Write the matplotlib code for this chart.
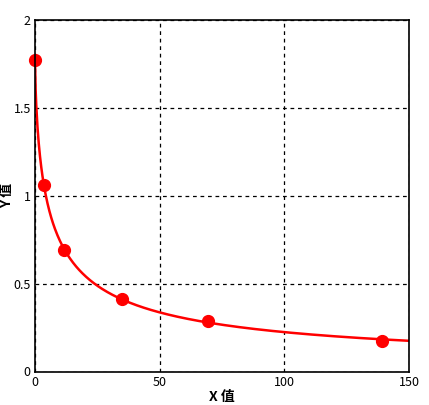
import numpy as np
import matplotlib
matplotlib.use("Agg")
import matplotlib.pyplot as plt

plt.rcParams['font.family'] = ['Noto Sans CJK SC', 'DejaVu Sans']

# data points
x_vals = [0, 3.6, 11.6, 35.0, 69.5, 139.0]
y_vals = [1.77, 1.062, 0.69, 0.412, 0.289, 0.175]
x_ticks = [0, 50, 100, 150]
y_ticks = [0, 0.5, 1, 1.5, 2]
y_tick_labels = ['0', '0.5', '1', '1.5', '2']


# four parameter logistic curve fitted to the points
def four_pl(x, p):
    a, b, c, d = p
    return d + (a - d) / (1 + (np.maximum(x, 0) / c) ** b)


def fit_4pl(x, y, p0, n_iter=200):
    p = np.array(p0, dtype=float)
    lam = 1e-3
    for _ in range(n_iter):
        r = y - four_pl(x, p)
        J = np.zeros((len(x), len(p)))
        for k in range(len(p)):
            dp = np.zeros(len(p))
            dp[k] = 1e-6 * max(abs(p[k]), 1e-3)
            J[:, k] = (four_pl(x, p + dp) - four_pl(x, p)) / dp[k]
        A = J.T @ J
        g = J.T @ r
        step = np.linalg.solve(A + lam * np.diag(np.diag(A)), g)
        new_p = p + step
        if new_p[2] > 0 and np.sum((y - four_pl(x, new_p)) ** 2) < np.sum(r ** 2):
            p = new_p
            lam *= 0.5
        else:
            lam *= 5
    return p


xs = np.array(x_vals)
ys = np.array(y_vals)
params = fit_4pl(xs, ys, [1.77, 0.72, 5.0, 0.0])
x_curve = np.linspace(0, 150, 600)
y_curve = four_pl(x_curve, params)

fig = plt.figure(figsize=(4.29, 4.05), dpi=100)
ax = fig.add_axes([35 / 429, 1 - 371.5 / 405, 374 / 429, 351.5 / 405])
ax.set_axisbelow(True)

ax.plot(x_curve, y_curve, color='#ff0000', lw=1.8, zorder=3)
ax.plot(xs, ys, 'o', color='#ff0000', markersize=8.5, zorder=4, clip_on=False)

ax.set_xlim(0, 150)
ax.set_ylim(0, 2)
ax.set_xticks(x_ticks)
ax.set_yticks(y_ticks)
ax.set_yticklabels(y_tick_labels)
ax.tick_params(length=0, labelsize=9, pad=3)
ax.grid(True, color='black', linestyle=(0, (3, 3)), linewidth=0.9)
for s in ax.spines.values():
    s.set_linewidth(1.2)
    s.set_zorder(5)

ax.set_xlabel('X 值', fontsize=10, fontweight='bold', labelpad=1)
ax.set_ylabel('Y 值', fontsize=10, fontweight='bold')
ax.yaxis.set_label_coords(-0.055, 0.5)

fig.savefig('out.png', dpi=100)
